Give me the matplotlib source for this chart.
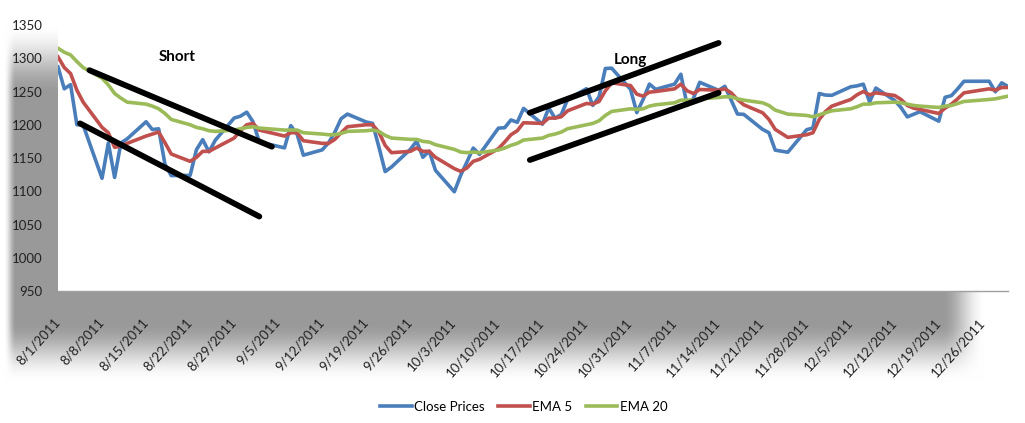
import numpy as np
import pandas as pd
import matplotlib.pyplot as plt
from matplotlib.transforms import ScaledTranslation

plt.rcParams['font.family'] = ['Lato', 'DejaVu Sans']

# trading days, Aug - Dec 2011
days = ['8/1', '8/2', '8/3', '8/4', '8/5', '8/8', '8/9', '8/10', '8/11', '8/12',
        '8/15', '8/16', '8/17', '8/18', '8/19', '8/22', '8/23', '8/24', '8/25', '8/26',
        '8/29', '8/30', '8/31', '9/1', '9/2', '9/6', '9/7', '9/8', '9/9', '9/12',
        '9/13', '9/14', '9/15', '9/16', '9/19', '9/20', '9/21', '9/22', '9/23', '9/26',
        '9/27', '9/28', '9/29', '9/30', '10/3', '10/4', '10/5', '10/6', '10/7', '10/10',
        '10/11', '10/12', '10/13', '10/14', '10/17', '10/18', '10/19', '10/20', '10/21', '10/24',
        '10/25', '10/26', '10/27', '10/28', '10/31', '11/1', '11/2', '11/3', '11/4', '11/7',
        '11/8', '11/9', '11/10', '11/11', '11/14', '11/15', '11/16', '11/17', '11/18', '11/21',
        '11/22', '11/23', '11/25', '11/28', '11/29', '11/30', '12/1', '12/2', '12/5', '12/6',
        '12/7', '12/8', '12/9', '12/12', '12/13', '12/14', '12/15', '12/16', '12/19', '12/20',
        '12/21', '12/22', '12/23', '12/27', '12/28', '12/29', '12/30']

close = [1286.94, 1254.05, 1260.34, 1200.07, 1199.38, 1119.46, 1172.53, 1120.76, 1172.64, 1178.81,
         1204.49, 1192.76, 1193.89, 1140.65, 1123.53, 1123.82, 1162.35, 1177.60, 1159.27, 1176.80,
         1210.08, 1212.92, 1218.89, 1204.42, 1173.97, 1165.24, 1198.62, 1185.90, 1154.23, 1162.27,
         1172.87, 1188.68, 1209.11, 1216.01, 1204.09, 1202.09, 1166.76, 1129.56, 1136.43, 1162.95,
         1175.38, 1151.06, 1160.40, 1131.42, 1099.23, 1123.95, 1144.03, 1164.97, 1155.46, 1194.89,
         1195.54, 1207.25, 1203.66, 1224.58, 1200.86, 1225.38, 1209.88, 1215.39, 1238.25, 1254.19,
         1229.05, 1242.00, 1284.59, 1285.09, 1253.30, 1218.28, 1237.90, 1261.15, 1253.23, 1261.12,
         1275.92, 1229.10, 1239.70, 1263.85, 1251.78, 1257.81, 1236.91, 1216.13, 1215.65, 1192.98,
         1188.04, 1161.79, 1158.67, 1192.55, 1195.19, 1246.96, 1244.58, 1244.28, 1257.08, 1258.47,
         1261.01, 1234.35, 1255.19, 1236.47, 1225.73, 1211.82, 1215.75, 1219.66, 1205.35, 1241.30,
         1243.72, 1254.00, 1265.33, 1265.43, 1249.64, 1263.02, 1257.60]

ema5 = [1302, 1286, 1277, 1252, 1234, 1196, 1188, 1166, 1168, 1172, 1183, 1186, 1189, 1173, 1156, 1145, 1151, 1160,
        1160, 1165, 1180, 1191, 1200, 1202, 1192, 1183, 1188, 1188, 1176, 1172, 1172, 1178, 1188, 1197, 1200, 1200,
        1189, 1169, 1158, 1160, 1165, 1160, 1160, 1151, 1134, 1130, 1135, 1145, 1148, 1164, 1174, 1185, 1191, 1203,
        1202, 1210, 1210, 1212, 1221, 1232, 1231, 1235, 1251, 1263, 1259, 1246, 1243, 1249, 1250, 1254, 1261, 1251,
        1247, 1253, 1252, 1254, 1248, 1238, 1230, 1218, 1208, 1193, 1181, 1185, 1188, 1208, 1220, 1228, 1238, 1245,
        1250, 1245, 1248, 1244, 1238, 1229, 1225, 1223, 1217, 1225, 1231, 1239, 1248, 1254, 1252, 1256, 1256]

ema20 = [1315, 1309, 1305, 1295, 1286, 1270, 1260, 1247, 1240, 1234, 1231, 1228, 1224, 1217, 1208, 1200, 1196, 1194,
         1191, 1190, 1192, 1194, 1196, 1197, 1195, 1192, 1192, 1192, 1188, 1186, 1185, 1185, 1187, 1190, 1191, 1192,
         1190, 1184, 1180, 1178, 1178, 1175, 1174, 1170, 1163, 1159, 1158, 1159, 1158, 1162, 1165, 1169, 1172, 1177,
         1180, 1184, 1186, 1189, 1194, 1200, 1202, 1206, 1214, 1220, 1224, 1223, 1224, 1228, 1230, 1233, 1237, 1237,
         1237, 1239, 1241, 1242, 1242, 1239, 1237, 1233, 1229, 1222, 1216, 1214, 1212, 1215, 1218, 1221, 1224, 1227,
         1231, 1231, 1233, 1234, 1233, 1231, 1229, 1228, 1226, 1228, 1229, 1232, 1235, 1238, 1239, 1241, 1243]

# hand-drawn trend channels
short_upper = (['2011-08-06 00:00', '2011-09-04 00:00'], [1282, 1167])
short_lower = (['2011-08-04 12:00', '2011-09-02 00:00'], [1202, 1062])
long_upper = (['2011-10-15 00:00', '2011-11-14 00:00'], [1218, 1323])
long_lower = (['2011-10-15 00:00', '2011-11-14 00:00'], [1147, 1248])

dates = pd.to_datetime([d + '/2011' for d in days], format='%m/%d/%Y')
ticks = pd.date_range('2011-08-01', '2011-12-26', freq='7D')

W, H = 1025, 423
fig = plt.figure(figsize=(W / 100, H / 100), dpi=100)

# soft grey shadow behind the axes
yy, xx = np.mgrid[0:H, 0:W] + 0.5


def ramp(v, a, b):
    t = np.clip((v - a) / (b - a), 0, 1)
    return t * t * (3 - 2 * t)


band = (yy >= 291) * (1 - ramp(yy, 322, 382)) * ramp(xx, 4, 16) * (1 - ramp(xx, 942, 985))
strip = (xx < 58) * (yy < 291) * ramp(yy, 25, 95) * ramp(xx, 4, 16)
shade = 1 - 0.40 * np.maximum(band, strip)
bg = fig.add_axes([0, 0, 1, 1], zorder=-1)
bg.imshow(np.dstack([shade] * 3), extent=(0, W, H, 0), aspect='auto', interpolation='bilinear')
bg.axis('off')

ax = fig.add_axes([58 / W, 1 - 291 / H, 950 / W, 266 / H])
ax.set_facecolor('white')

ax.plot(dates, close, color='#4a7ebb', lw=2.6, label='Close Prices')
ax.plot(dates, ema5, color='#c0504d', lw=2.6, label='EMA 5')
ax.plot(dates, ema20, color='#9bbb59', lw=2.6, label='EMA 20')

for seg in (short_upper, short_lower, long_upper, long_lower):
    ax.plot(pd.to_datetime(seg[0]), seg[1], color='black', lw=4.2, solid_capstyle='round')

ax.text(pd.Timestamp('2011-08-20'), 1302, 'Short', fontsize=11, fontweight='bold', ha='center', va='center')
ax.text(pd.Timestamp('2011-10-31'), 1297, 'Long', fontsize=11, fontweight='bold', ha='center', va='center')

ax.set_xlim(pd.Timestamp('2011-08-01'), pd.Timestamp('2011-12-30'))
ax.set_ylim(950, 1350)
ax.set_yticks(range(950, 1351, 50))
ax.set_xticks(ticks)
ax.set_xticklabels([f'{d.month}/{d.day}/{d.year}' for d in ticks], rotation=48, ha='right', va='top')

ax.tick_params(axis='both', length=0, labelsize=9.5, colors='#222222')
ax.tick_params(axis='y', pad=11)
ax.tick_params(axis='x', pad=18)
for lbl in ax.get_xticklabels():
    lbl.set_transform(lbl.get_transform() + ScaledTranslation(4 / 100, 0, fig.dpi_scale_trans))
for s in ('top', 'right', 'left'):
    ax.spines[s].set_visible(False)
ax.spines['bottom'].set_color('#a0a0a0')
ax.spines['bottom'].set_linewidth(1)

fig.legend(loc='center', bbox_to_anchor=(0.511, 1 - 407 / H), ncol=3, frameon=False,
           fontsize=9.5, handlelength=2.4, handletextpad=0.2, columnspacing=1.0)

fig.savefig('out.png', dpi=100)
